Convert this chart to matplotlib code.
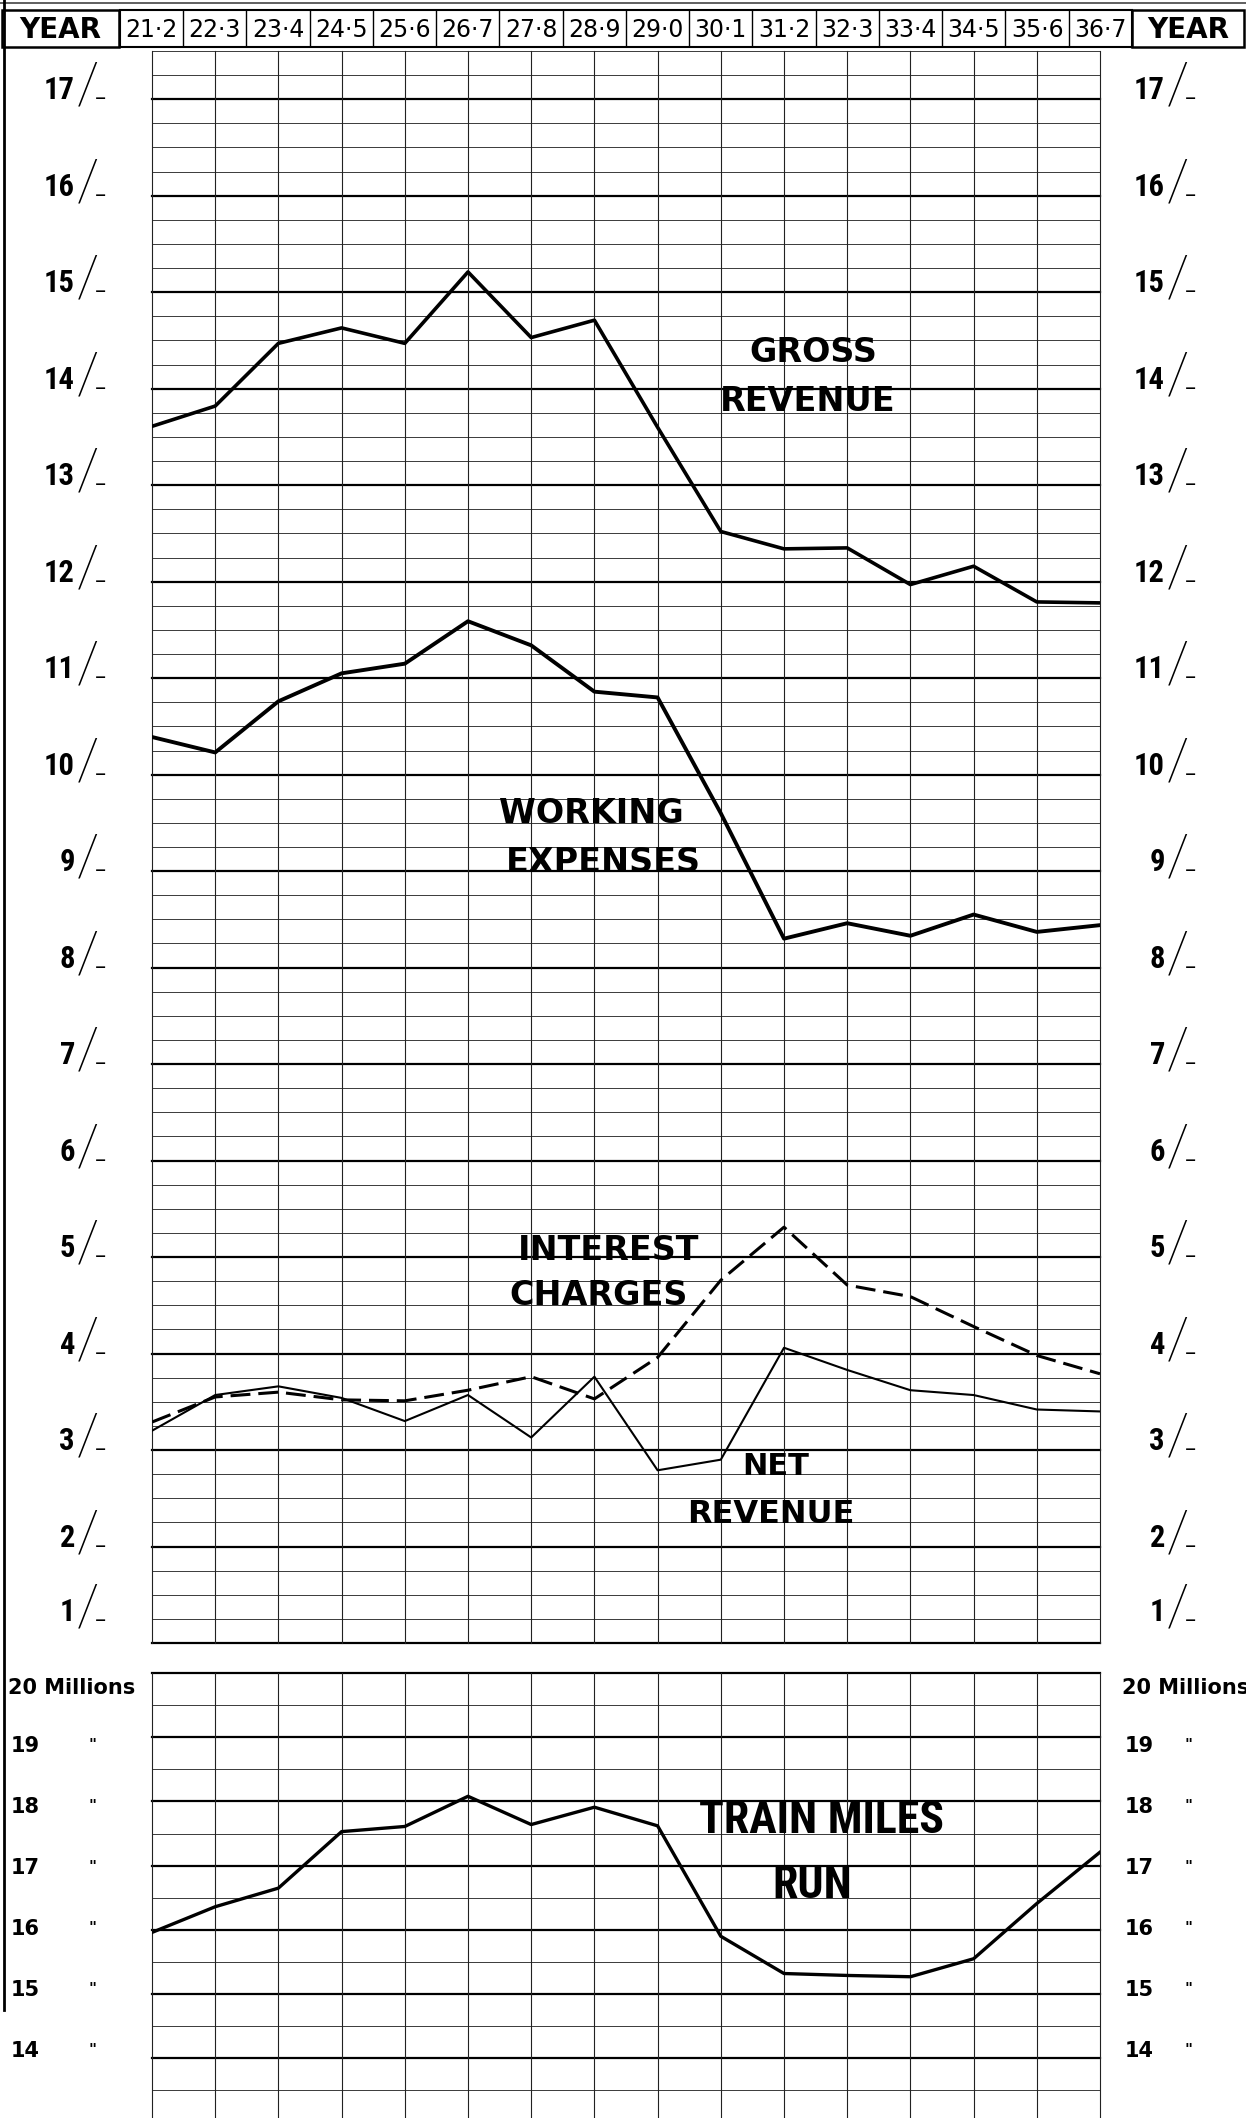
import numpy as np
import matplotlib
matplotlib.use("Agg")
import matplotlib.pyplot as plt
from matplotlib import font_manager as fm
from matplotlib.patches import Rectangle
from matplotlib.lines import Line2D
from matplotlib.transforms import blended_transform_factory, ScaledTranslation

# ---- data ----
years = ["21·2", "22·3", "23·4", "24·5", "25·6", "26·7", "27·8", "28·9",
         "29·0", "30·1", "31·2", "32·3", "33·4", "34·5", "35·6", "36·7"]
# per train mile, in shillings
gross_revenue = [13.61, 13.82, 14.47, 14.63, 14.47, 15.21, 14.53, 14.71,
                 13.60, 12.52, 12.34, 12.35, 11.97, 12.16, 11.79, 11.78]
working_expenses = [10.39, 10.23, 10.76, 11.05, 11.15, 11.59, 11.34, 10.86,
                    10.80, 9.60, 8.30, 8.46, 8.33, 8.55, 8.37, 8.44]
interest_charges = [3.29, 3.55, 3.60, 3.52, 3.51, 3.62, 3.76, 3.53,
                    3.96, 4.76, 5.31, 4.71, 4.59, 4.28, 3.98, 3.79]
net_revenue = [3.20, 3.57, 3.66, 3.54, 3.30, 3.57, 3.13, 3.76,
               2.79, 2.90, 4.06, 3.83, 3.62, 3.57, 3.42, 3.40]
# millions of train miles run
train_miles = [15.96, 16.36, 16.65, 17.53, 17.61, 18.08, 17.64, 17.91,
               17.62, 15.90, 15.32, 15.29, 15.27, 15.55, 16.41, 17.21]
shilling_ticks = list(range(1, 18))
million_ticks = list(range(14, 20))

# ---- fonts ----
avail = {f.name for f in fm.fontManager.ttflist}
def pick(*names):
    for n in names:
        if n in avail:
            return n
    return "DejaVu Sans"
COND = pick("Roboto Condensed", "Archivo Narrow", "Liberation Sans Narrow", "Asap Condensed")
THIN = pick("Roboto", "Open Sans", "Lato")
plt.rcParams["font.family"] = ["DejaVu Sans"]

W, H = 1246, 2118
fig = plt.figure(figsize=(W / 100, H / 100), dpi=100)
fig.patch.set_facecolor("white")

def box(l, t, r, b):
    return [l / W, 1 - b / H, (r - l) / W, (b - t) / H]

ax = fig.add_axes(box(152, 51, 1100, 1643))
ax2 = fig.add_axes(box(152, 1673, 1100, 2118))
hd = fig.add_axes(box(120, 10, 1132, 47))

x = np.arange(len(years))

# ---- grids ----
ax.set_xlim(0, 15)
ax.set_ylim(1, 17.5)
for v in np.arange(1, 17.51, 0.25):
    major = float(v).is_integer()
    ax.axhline(v, color="black" if major else "#3a3a3a", lw=1.6 if major else 0.7,
               zorder=1, clip_on=False)
for i in x:
    ax.axvline(i, color="#222222", lw=0.8, zorder=1, clip_on=False)

ax2.set_xlim(0, 15)
ax2.set_ylim(13.07, 20)
for v in np.arange(13.5, 20.01, 0.5):
    major = float(v).is_integer()
    ax2.axhline(v, color="black" if major else "#3a3a3a", lw=1.6 if major else 0.7,
                zorder=1, clip_on=False)
for i in x:
    ax2.axvline(i, color="#222222", lw=0.8, zorder=1, clip_on=False)

for a in (ax, ax2):
    a.axis("off")

# ---- curves ----
ax.plot(x, gross_revenue, color="black", lw=2.6, zorder=3)
ax.plot(x, working_expenses, color="black", lw=2.8, zorder=3)
ax.plot(x, interest_charges, color="black", lw=2.2, dashes=(6.5, 2.6), zorder=3)
ax.plot(x, net_revenue, color="black", lw=1.5, zorder=3)
ax2.plot(x, train_miles, color="black", lw=2.4, zorder=3)

# ---- curve names ----
lab = dict(ha="center", va="baseline", fontweight="bold", color="black", zorder=4)
ax.text(10.46, 14.275, "GROSS", fontsize=24, **lab)
ax.text(10.38, 13.77, "REVENUE", fontsize=24, **lab)
ax.text(6.96, 9.50, "WORKING", fontsize=24, **lab)
ax.text(7.14, 8.99, "EXPENSES", fontsize=24, **lab)
ax.text(7.23, 4.97, "INTEREST", fontsize=24, **lab)
ax.text(7.06, 4.50, "CHARGES", fontsize=24, **lab)
ax.text(9.87, 2.74, "NET", fontsize=22, **lab)
ax.text(9.79, 2.24, "REVENUE", fontsize=23, **lab)
ax2.text(10.60, 17.51, "TRAIN MILES", fontsize=33, family=COND, **lab)
ax2.text(10.44, 16.50, "RUN", fontsize=33, family=COND, **lab)

# ---- side scales ----
def side(a, xpx, yval, s, dy=0, **kw):
    tr = blended_transform_factory(fig.transFigure, a.transData) + \
        ScaledTranslation(0, -dy / 100, fig.dpi_scale_trans)
    a.text(xpx / W, yval, s, transform=tr, clip_on=False, color="black", **kw)

for s in shilling_ticks:
    d = -22 if s == 1 else 0
    for xd, xs, xm in ((75, 88, 101), (1165, 1178, 1191)):
        side(ax, xd, s, str(s), dy=d, ha="right", va="baseline", fontsize=22,
             fontweight="bold", family=COND)
        side(ax, xs, s, "/", dy=d - 12, ha="center", va="center", fontsize=42,
             fontweight=100, family=THIN)
        side(ax, xm, s, "–", dy=d - 1, ha="center", va="center", fontsize=16)

for xl, xq in ((8, 92), (1122, 1189)):
    side(ax2, xl, 20, "20 Millions", dy=15, ha="left", va="center", fontsize=15,
         fontweight="bold")
    for m in million_ticks:
        d = (m - 16.4) * 3.2
        side(ax2, xl + 3, m, str(m), dy=d, ha="left", va="center", fontsize=15,
             fontweight="bold")
        side(ax2, xq, m, '"', dy=d, ha="center", va="center", fontsize=11,
             fontweight="bold")

# ---- year header ----
hd.set_xlim(-0.5, 15.5)
hd.set_ylim(0, 1)
hd.axis("off")
hd.add_patch(Rectangle((-0.5, 0), 16, 1, fill=False, lw=1.5, clip_on=False))
for i in range(1, 16):
    hd.axvline(i - 0.5, color="black", lw=1.0)
for i, y in enumerate(years):
    hd.text(i, 0.47, y, ha="center", va="center", fontsize=17)

for l, r in ((2, 119), (1132, 1244)):
    fig.add_artist(Rectangle((l / W, 1 - 47 / H), (r - l) / W, 37 / H,
                             transform=fig.transFigure, fill=False, lw=1.8))
    fig.text((l + r) / 2 / W, 1 - 30 / H, "YEAR", ha="center", va="center",
             fontsize=20, fontweight="bold")

fig.add_artist(Line2D([0, 1], [1 - 3 / H] * 2, transform=fig.transFigure,
                      color="#444444", lw=1.2))
fig.add_artist(Line2D([4 / W] * 2, [1, 1 - 2010 / H], transform=fig.transFigure,
                      color="black", lw=2))

fig.savefig("out.png", dpi=100)
